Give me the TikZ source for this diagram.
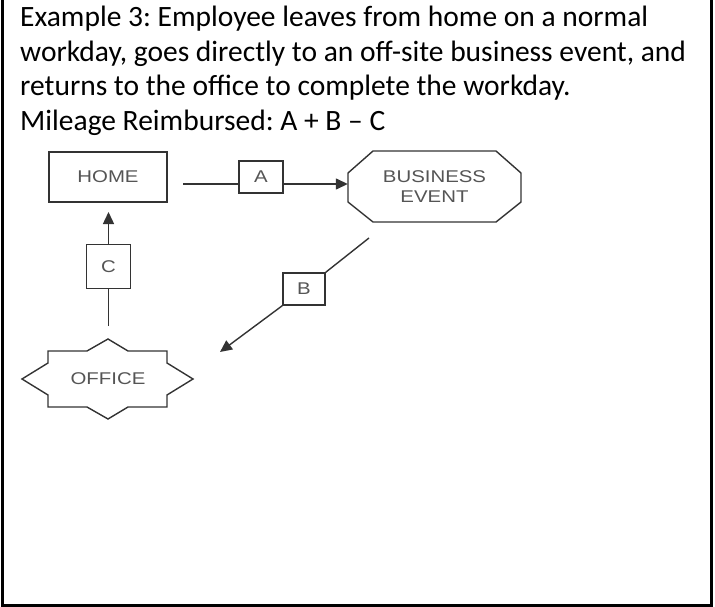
\documentclass[tikz,border=0pt]{standalone}
\usepackage{fontspec}
\setmainfont{Carlito}
\newfontfamily\diafont{Liberation Sans}
\usetikzlibrary{arrows.meta}
\definecolor{linegray}{HTML}{333333}
\definecolor{textgray}{HTML}{555555}
\frenchspacing
\tikzset{
  maintext/.style={anchor=base west,inner sep=0pt,font=\fontsize{29.5}{34}\selectfont},
  diatext/.style={text=textgray,font=\diafont\fontsize{17}{19.5}\selectfont,align=center},
  conn/.style={draw=linegray,line width=1.4pt},
  arr/.style={conn,-{Triangle[length=12pt,width=11pt]}},
  labelbox/.style={draw=linegray,line width=1.4pt,rectangle,inner sep=0pt,minimum width=44pt,minimum height=32pt,diatext},
  shapeline/.style={draw=linegray,line width=1.4pt,line join=miter}
}
\begin{document}
\begin{tikzpicture}[x=1pt,y=-1pt]
\useasboundingbox (0,0) rectangle (715,607);
% frame open at top
\draw[line width=2.6pt] (2.5,0) -- (2.5,605.5) -- (711.5,605.5) -- (711.5,0);
% text
\node[maintext] (t1) at (20,27) {Example 3: Employee leaves from home on a normal};
\node[maintext] (t2) at (20,61.5) {workday, goes directly to an off-site business event, and};
\node[maintext] (t3) at (20,96) {returns to the office to complete the workday.};
\node[maintext] (t4) at (20,130.5) {Mileage Reimbursed: A + B -- C};
% HOME
\node[shapeline,rectangle,minimum width=118pt,minimum height=50pt,inner sep=0pt,diatext] (home) at (108,177) {\scalebox{1.2}[1]{HOME}};
% BUSINESS EVENT
\node[rectangle,minimum width=173pt,minimum height=71pt,inner sep=0pt,diatext] (event) at (434.5,186.5) {\scalebox{1.2}[1]{BUSINESS}\\\scalebox{1.2}[1]{EVENT}};
\draw[shapeline] (event.center) ++(-61.5,-35.5) -- ++(123,0) -- ++(25,22) -- ++(0,29) -- ++(-25,20) -- ++(-123,0) -- ++(-25,-20) -- ++(0,-29) -- cycle;
% OFFICE
\node[diatext,inner sep=0pt] (office) at (108,379) {\scalebox{1.2}[1]{OFFICE}};
\draw[shapeline] (office.center) ++(-60,-28) -- ++(39,0) -- ++(21,-12) -- ++(20,12) -- ++(39,0) -- ++(0,12) -- ++(26,16) -- ++(-26,16) -- ++(0,12) -- ++(-39,0) -- ++(-20,12) -- ++(-21,-12) -- ++(-39,0) -- ++(0,-12) -- ++(-26,-16) -- ++(26,-16) -- cycle;
% label boxes
\node[labelbox] (boxA) at (261,177) {\scalebox{1.2}[1]{A}};
\node[labelbox,minimum width=42pt] (boxB) at (304,289) {\scalebox{1.2}[1]{B}};
\node[labelbox,minimum height=44pt] (boxC) at (108.5,266.5) {\scalebox{1.2}[1]{C}};
% free ends
\coordinate (a1) at (183,184);
\coordinate (b1) at (369,238);
\coordinate (b2) at (220,352);
\coordinate (c1) at (108.5,326);
\coordinate (c2) at (108.5,212);
% connectors
\draw[conn] (a1) -- (a1 -| boxA.west);
\draw[arr] (a1 -| boxA.east) -- (a1 -| event.west);
\draw[conn] (b1) -- (boxB.north east);
\draw[arr] (boxB.south west) -- (b2);
\draw[conn] (c1) -- (boxC.south);
\draw[arr] (boxC.north) -- (c2);
\end{tikzpicture}
\end{document}
